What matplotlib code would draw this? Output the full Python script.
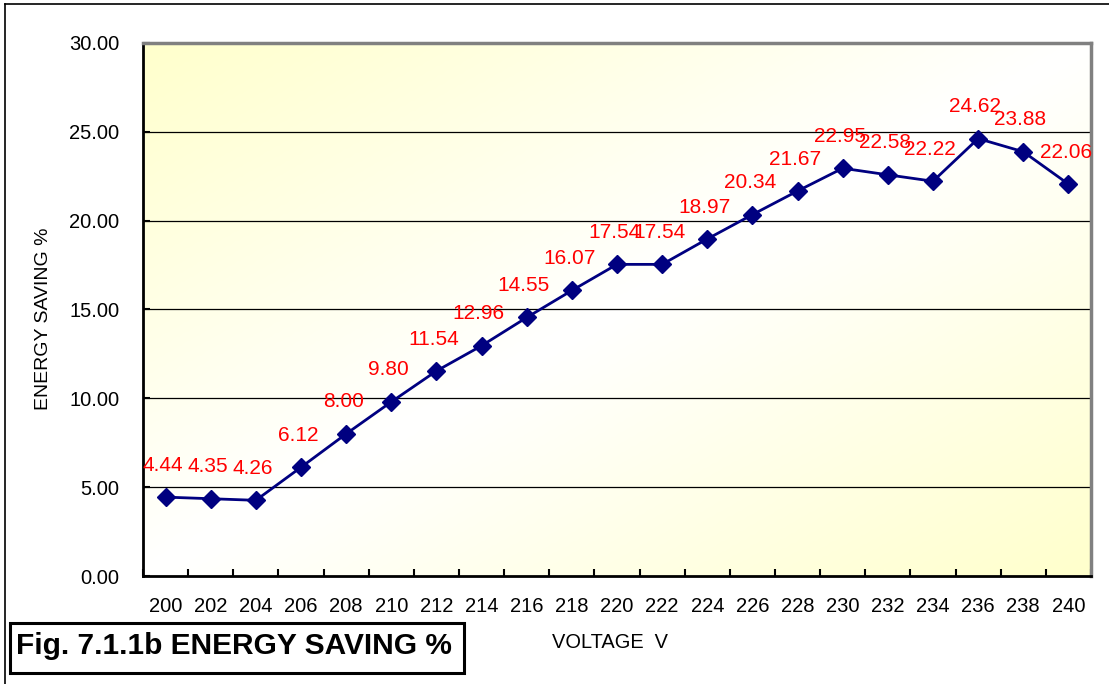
import numpy as np
import matplotlib.pyplot as plt
from matplotlib.colors import LinearSegmentedColormap
from matplotlib.patches import Rectangle
from matplotlib.lines import Line2D

plt.rcParams['font.family'] = ['Liberation Sans', 'DejaVu Sans']

voltage = ['200', '202', '204', '206', '208', '210', '212', '214', '216', '218', '220',
           '222', '224', '226', '228', '230', '232', '234', '236', '238', '240']
saving = [4.44, 4.35, 4.26, 6.12, 8.00, 9.80, 11.54, 12.96, 14.55, 16.07, 17.54,
          17.54, 18.97, 20.34, 21.67, 22.95, 22.58, 22.22, 24.62, 23.88, 22.06]
yticks = [0, 5, 10, 15, 20, 25, 30]

W, H = 1109, 684
fig = plt.figure(figsize=(W/100, H/100), dpi=100)
ax = fig.add_axes([143/W, 1-576/H, (1091-143)/W, (576-43)/H])

x = np.arange(len(voltage))
ax.set_xlim(-0.5, len(voltage)-0.5)
ax.set_ylim(0, 30)

# diagonal gradient background: yellow corners (top-left, bottom-right), white middle
gx, gy = np.meshgrid(np.linspace(0, 1, 300), np.linspace(1, 0, 200))
d = np.abs((gx - gy + 1)/2 - 0.5)*2
cmap = LinearSegmentedColormap.from_list('bg', ['#FFFFFF', '#FFFFCC'])
ax.imshow(d, cmap=cmap, extent=[0, 1, 0, 1], transform=ax.transAxes,
          aspect='auto', zorder=0, vmin=0, vmax=1)

for yv in yticks[1:-1]:
    ax.axhline(yv, color='black', lw=0.9, zorder=1)

ax.plot(x, saving, color='#000080', lw=2, marker='D', ms=9, zorder=3)
for xi, v in zip(x, saving):
    ax.annotate(f'{v:.2f}', (xi, v), xytext=(-2, 23), textcoords='offset points',
                ha='center', va='center', color='#FF0000', fontsize=15, zorder=4)

ax.set_xticks(np.arange(len(voltage)+1) - 0.5)
ax.set_xticklabels([])
ax.set_xticks(x, minor=True)
ax.set_xticklabels(voltage, minor=True, fontsize=14.5)
ax.tick_params(axis='x', which='minor', length=0, pad=15)
ax.tick_params(axis='x', which='major', direction='in', length=5, width=1.5)
ax.set_yticks(yticks)
ax.set_yticklabels([f'{v:.2f}' for v in yticks], fontsize=14.5)
ax.tick_params(axis='y', direction='in', length=5, width=1.5, pad=17)

ax.spines['left'].set_linewidth(2)
ax.spines['bottom'].set_linewidth(2)
ax.spines['top'].set_color('#808080')
ax.spines['right'].set_color('#808080')
ax.spines['top'].set_linewidth(2.5)
ax.spines['right'].set_linewidth(2.5)

fig.text(44/W, 1-319/H, 'ENERGY SAVING %', rotation=90, ha='center', va='center', fontsize=14)
fig.text(610/W, 1-642/H, 'VOLTAGE  V', ha='center', va='center', fontsize=14.4)

# title box
fig.add_artist(Rectangle((10/W, 1-673/H), (464-10)/W, (673-623)/H, transform=fig.transFigure,
                         fc='white', ec='black', lw=2.2))
fig.text(234/W, 1-646/H, 'Fig. 7.1.1b ENERGY SAVING %', ha='center', va='center',
         fontsize=21.5, fontweight='bold')

# outer chart border
fig.add_artist(Line2D([5/W, 5/W], [0, 1-4/H], transform=fig.transFigure, color='black', lw=1.2))
fig.add_artist(Line2D([5/W, 1], [1-4/H, 1-4/H], transform=fig.transFigure, color='black', lw=1.2))

fig.savefig('out.png', dpi=100)
